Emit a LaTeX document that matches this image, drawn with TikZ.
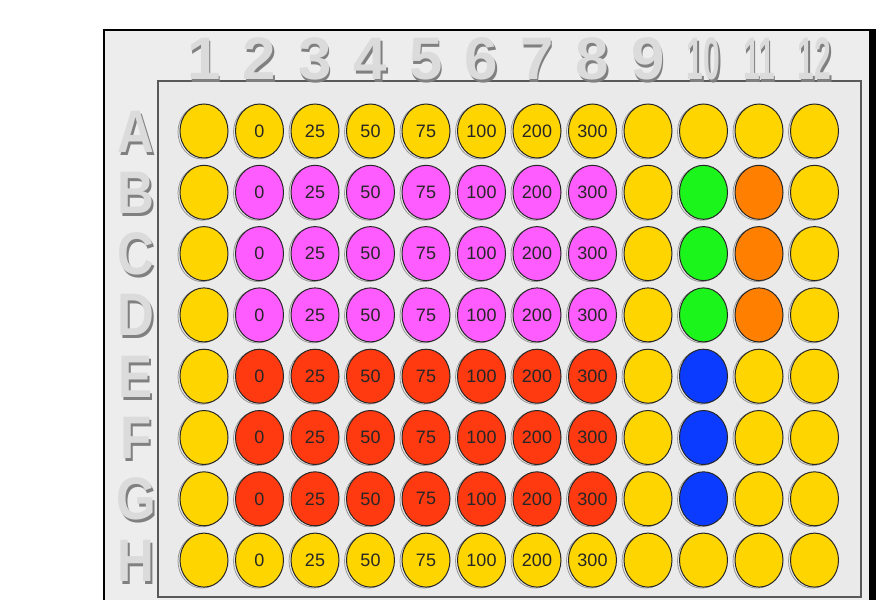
\documentclass[tikz,border=0pt]{standalone}
\usepackage{fontspec}
\setmainfont{Liberation Sans}
\usetikzlibrary{shapes.geometric}
\definecolor{wyel}{HTML}{FFD500}
\definecolor{wmag}{HTML}{FF5CFF}
\definecolor{wred}{HTML}{FF3A10}
\definecolor{wgrn}{HTML}{1CF51C}
\definecolor{worg}{HTML}{FF7F00}
\definecolor{wblu}{HTML}{0B3BFF}
\definecolor{plate}{HTML}{EDEDED}
\definecolor{inner}{HTML}{EAEAEA}
\begin{document}
\begin{tikzpicture}[x=1pt, y=-1pt,
  well/.style={ellipse, draw=black!85, line width=1pt, minimum width=48pt, minimum height=54pt, inner sep=0pt, font=\fontsize{18}{18}\selectfont, text=black!85},
  ring/.style={draw=gray!80, line width=0.8pt},
  hdr/.style={font=\fontsize{60}{60}\selectfont\bfseries, anchor=base, text=black!14},
  hdrsh/.style={hdr, text=black!50}
]
  \useasboundingbox (0,0) rectangle (876,600);
  \fill[white] (0,0) rectangle (876,600);
  \begin{scope}
    \clip (0,0) rectangle (876,600);
    \fill[plate] (104,30) rectangle (870,610);
    \draw[line width=2pt] (104,610) -- (104,30) -- (870,30);
    \fill[black] (869,29) rectangle (876,610);
  \end{scope}
  \draw[gray!70!black, line width=1.2pt, fill=inner] (158,81) rectangle (861,597);

  \foreach \n/\sx [count=\j] in {1/1,2/1,3/1,4/1,5/1,6/1,7/1,8/1,9/1,10/0.5,11/0.5,12/0.5} {
    \node[hdrsh] (colsh-\j) at (205.5+55.5*\j-55.5, 82) {\scalebox{\sx}[1]{\n}};
    \node[hdr] (col-\j) at (204+55.5*\j-55.5, 79) {\scalebox{\sx}[1]{\n}};
  }
  \foreach \r [count=\i] in {A,B,C,D,E,F,G,H} {
    \node[hdrsh] (rowsh-\r) at (138, 131+61.3*\i-61.3+24) {\scalebox{0.85}[1]{\r}};
    \node[hdr] (row-\r) at (136, 131+61.3*\i-61.3+21) {\scalebox{0.85}[1]{\r}};
  }

  \foreach \r/\mid/\ten/\elv [count=\i] in {A/wyel/wyel/wyel, B/wmag/wgrn/worg, C/wmag/wgrn/worg, D/wmag/wgrn/worg,
      E/wred/wblu/wyel, F/wred/wblu/wyel, G/wred/wblu/wyel, H/wyel/wyel/wyel} {
    \pgfmathsetmacro{\yy}{131+61.3*\i-61.3}
    \foreach \c/\v [count=\j] in {wyel/{}, \mid/0, \mid/25, \mid/50, \mid/75, \mid/100, \mid/200, \mid/300,
        wyel/{}, \ten/{}, \elv/{}, wyel/{}} {
      \draw[ring] (204+55.5*\j-55.5-2, \yy+1) ellipse [x radius=24, y radius=27];
      \node[well, fill=\c] (well-\r\j) at (204+55.5*\j-55.5, \yy) {\v};
    }
  }
\end{tikzpicture}
\end{document}
